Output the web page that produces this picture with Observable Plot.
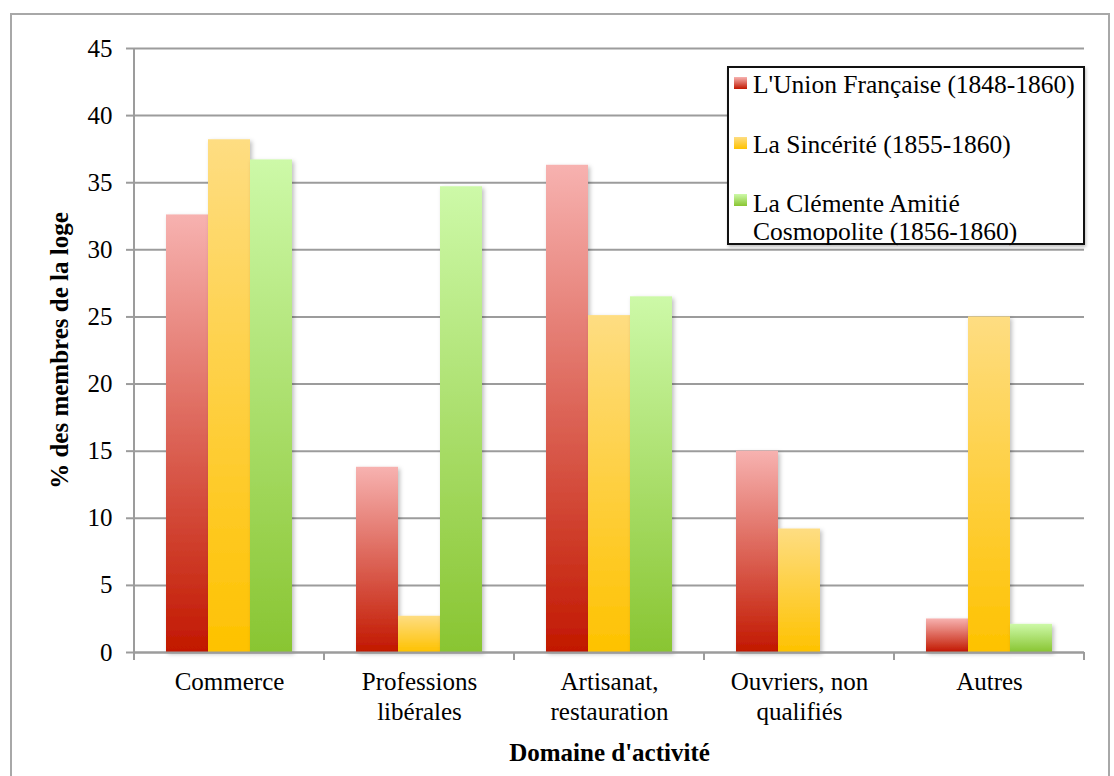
<!DOCTYPE html>
<html><head><meta charset="utf-8">
<script src="https://cdn.jsdelivr.net/npm/d3@7"></script>
<script src="https://cdn.jsdelivr.net/npm/@observablehq/plot@0.6"></script>
<style>
body{margin:0;background:#fff;}
#wrap{position:relative;width:1114px;height:776px;overflow:hidden;font-family:"Liberation Serif",serif;color:#000;}
#frame{position:absolute;left:10px;top:13px;width:1100px;height:800px;border:2px solid #a8a8a8;box-sizing:border-box;}
#chart{position:absolute;left:0;top:0;}
#legend{position:absolute;left:727px;top:66px;width:358px;height:179px;border:2px solid #111;background:#fff;box-sizing:border-box;box-shadow:1px 2px 3px rgba(0,0,0,0.25);}
.sw{position:absolute;left:5px;width:13px;height:12px;}
.lt{position:absolute;left:24px;font-family:"Liberation Serif",serif;font-size:25.5px;line-height:30px;white-space:nowrap;}
</style></head>
<body>
<div id="wrap">
  <div id="frame"></div>
  <div id="chart"></div>
  <div id="legend"></div>
</div>
<script>
// ---- data ----
const categories = ["Commerce", "Professions\nlibérales", "Artisanat,\nrestauration", "Ouvriers, non\nqualifiés", "Autres"];
const seriesNames = ["L'Union Française (1848-1860)", "La Sincérité (1855-1860)", "La Clémente Amitié Cosmopolite (1856-1860)"];
const unionFrancaise = [32.6, 13.8, 36.3, 15.0, 2.5];
const sincerite = [38.2, 2.7, 25.1, 9.2, 25.0];
const clementeAmitie = [36.7, 34.7, 26.5, 0, 2.1];
const yTicks = [0, 5, 10, 15, 20, 25, 30, 35, 40, 45];
const legendLines = [["L'Union Française (1848-1860)"], ["La Sincérité (1855-1860)"], ["La Clémente Amitié", "Cosmopolite (1856-1860)"]];

// ---- styles ----
const gradTop = ["#f7b2b0", "#fedd82", "#cdf9a8"];
const gradBottom = ["#c21800", "#fec200", "#89c532"];
const gradIds = ["gUnion", "gSincerite", "gClemente"];

const seriesValues = [unionFrancaise, sincerite, clementeAmitie];
const data = categories.flatMap((c, i) => seriesNames.map((s, j) => ({category: c, series: s, value: seriesValues[j][i]})));

const gridColor = "#9c9c9c";

const plot = Plot.plot({
  width: 1114,
  height: 776,
  marginTop: 48,
  marginLeft: 132,
  marginRight: 29,
  marginBottom: 124,
  style: {fontFamily: "Liberation Serif, serif", fontSize: "25px", color: "#000", background: "transparent", overflow: "visible"},
  fx: {domain: categories, padding: 0},
  x: {domain: seriesNames, paddingInner: 0, paddingOuter: 0.716, axis: null},
  y: {domain: [0, 45]},
  color: {domain: seriesNames, range: gradIds.map(id => `url(#${id})`)},
  marks: [
    Plot.gridY(yTicks, {stroke: gridColor, strokeOpacity: 1, strokeWidth: 2}),
    Plot.barY(data, {fx: "category", x: "series", y: "value", fill: "series", inset: 0}),
    Plot.ruleY([0], {stroke: gridColor, strokeWidth: 2}),
    Plot.axisY(yTicks, {tickSize: 8, tickPadding: 14, stroke: gridColor, strokeWidth: 2, label: "% des membres de la loge", labelArrow: "none", labelAnchor: "center", labelOffset: 84, fontSize: 25}),
    Plot.axisFx({anchor: "bottom", tickSize: 0, tickPadding: 17, lineHeight: 1.17, label: "Domaine d'activité", labelArrow: "none", labelAnchor: "center", labelOffset: 108, fontSize: 25})
  ]
});
document.getElementById("chart").appendChild(plot);

// gradients + shadow
const svg = d3.select(plot);
const defs = svg.insert("defs", ":first-child");
gradIds.forEach((id, i) => {
  const g = defs.append("linearGradient").attr("id", id).attr("x1", 0).attr("y1", 0).attr("x2", 0).attr("y2", 1);
  g.append("stop").attr("offset", "0%").attr("stop-color", gradTop[i]);
  g.append("stop").attr("offset", "100%").attr("stop-color", gradBottom[i]);
});
const f = defs.append("filter").attr("id", "shadow").attr("x", "-20%").attr("y", "-5%").attr("width", "150%").attr("height", "120%");
f.append("feDropShadow").attr("dx", 2).attr("dy", 2).attr("stdDeviation", 2).attr("flood-color", "#000").attr("flood-opacity", 0.25);
svg.selectAll('g[aria-label="bar"] rect').attr("filter", "url(#shadow)");
svg.selectAll('g[aria-label="y-axis label"], g[aria-label="fx-axis label"]').attr("font-weight", "bold");

// axis line and boundary ticks from the library scales
const fx = plot.scale("fx"), y = plot.scale("y");
const [y0, y1] = [y.apply(0), y.apply(45)];
const axisG = svg.append("g").attr("stroke", gridColor).attr("stroke-width", 2);
const left = fx.apply(categories[0]);
axisG.append("line").attr("x1", left).attr("x2", left).attr("y1", y1).attr("y2", y0 + 8);
categories.forEach(c => {
  const xb = fx.apply(c) + fx.bandwidth;
  axisG.append("line").attr("x1", xb).attr("x2", xb).attr("y1", y0).attr("y2", y0 + 8);
});

// legend
const leg = d3.select("#legend");
const rowTops = [2, 62, 121];
const swTops = [9, 69, 126];
legendLines.forEach((lines, i) => {
  leg.append("div").attr("class", "sw").style("top", swTops[i] + "px")
    .style("background", `linear-gradient(${gradTop[i]}, ${gradBottom[i]})`);
  lines.forEach((t, k) => {
    leg.append("div").attr("class", "lt").style("top", (rowTops[i] + k * 28) + "px").text(t);
  });
});
</script>
</body></html>
